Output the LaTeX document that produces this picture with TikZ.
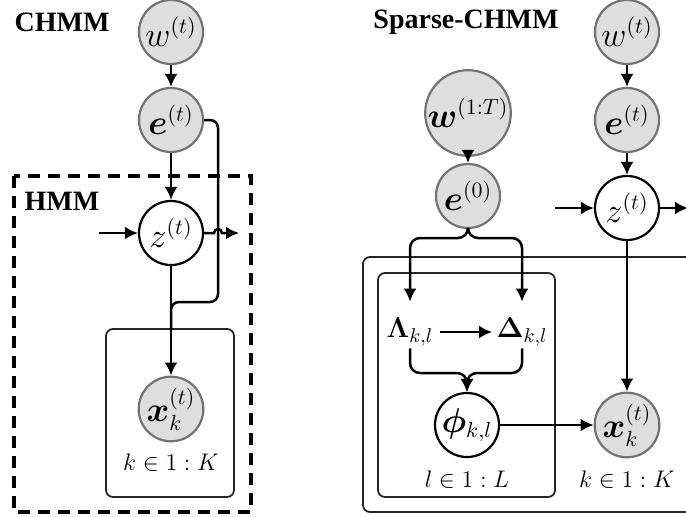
\documentclass[tikz,border=0pt]{standalone}
\usepackage{amsmath,bm}
\usepackage{fontspec}
\newfontfamily\titlefont{Liberation Serif}
\usetikzlibrary{arrows.meta}
\begin{document}
\begin{tikzpicture}[x=0.5pt,y=-0.5pt,
  obs/.style={circle,draw=black!55,fill=black!13,line width=1.1pt,minimum size=32pt,inner sep=0pt,font=\fontsize{16}{19}\selectfont},
  lat/.style={circle,draw=black,fill=white,line width=1.1pt,minimum size=32pt,inner sep=0pt,font=\fontsize{16}{19}\selectfont},
  txt/.style={inner sep=0pt,font=\fontsize{14.5}{17}\selectfont},
  arr/.style={-{Latex[length=6.5pt,width=6.5pt]},line width=1.25pt},
  ln/.style={line width=1.25pt},
  plate/.style={draw=black!85,line width=0.9pt,rounded corners=3.5pt},
  ttl/.style={font=\titlefont\bfseries\fontsize{14}{16}\selectfont,inner sep=0pt},
  plab/.style={font=\fontsize{11.5}{14}\selectfont,inner sep=0pt}]
\useasboundingbox (0,0) rectangle (686,516);

% ---------- CHMM ----------
\node[ttl] (t1) at (62,22) {CHMM};
\draw[line width=1.6pt,dash pattern=on 6pt off 4pt] (14,176) rectangle (251,512);
\node[ttl] (t2) at (62,201) {HMM};
\draw[plate] (106,329) rectangle (234,497);
\node[obs] (w1) at (171,32) {$w^{(t)}$};
\node[obs] (e1) at (171,120) {$\bm{e}^{(t)}$};
\node[lat] (z1) at (171,233) {$z^{(t)}$};
\node[obs] (x1) at (171,409) {$\bm{x}_k^{(t)}$};
\node[plab] (k1) at (171,463) {$k\in 1:K$};
\coordinate (zin1) at (99,233);
\coordinate (zout1) at (239,233);
\draw[arr] (w1) -- (e1);
\draw[arr] (e1) -- (z1);
\draw[arr] (zin1) -- (z1);
\draw[arr] (z1.east) -- (214,233) arc[start angle=180,end angle=0,radius=2pt] -- (zout1);
\draw[arr] (z1) -- (x1);
\draw[ln,rounded corners=4pt] (e1.east) -- (218,120) -- (218,302) -- (171,302) -- (171,330);

% ---------- Sparse-CHMM ----------
\node[ttl] (t3) at (466,22) {Sparse-CHMM};
\draw[plate] (363,257) rectangle (720,512);
\draw[plate] (378,273) rectangle (555,497);
\node[obs] (w2) at (627,32) {$w^{(t)}$};
\node[obs] (e2) at (627,120) {$\bm{e}^{(t)}$};
\node[lat] (z2) at (627,208) {$z^{(t)}$};
\node[obs] (wa) at (468,113) {$\bm{w}^{(1:T)}$};
\node[obs] (e0) at (468,196) {$\bm{e}^{(0)}$};
\node[txt] (L) at (410,332) {$\bm{\Lambda}_{k,l}$};
\node[txt] (D) at (522,332) {$\bm{\Delta}_{k,l}$};
\node[lat] (phi) at (467,425) {$\bm{\phi}_{k,l}$};
\node[obs] (x2) at (627,425) {$\bm{x}_k^{(t)}$};
\node[plab] (l2) at (467,480) {$l\in 1:L$};
\node[plab] (k2) at (627,480) {$k\in 1:K$};
\coordinate (zin2) at (555,208);
\coordinate (zout2) at (688,208);
\draw[arr] (w2) -- (e2);
\draw[arr] (e2) -- (z2);
\draw[arr] (zin2) -- (z2);
\draw[arr] (z2) -- (zout2);
\draw[arr] (z2) -- (x2);
\draw[arr] (wa) -- (e0);
\draw[arr,rounded corners=5pt] (e0.south) -- (468,238) -| ([yshift=8pt]L.north);
\draw[arr,rounded corners=5pt] (e0.south) -- (468,238) -| ([yshift=8pt]D.north);
\draw[arr,shorten <=3pt,shorten >=2pt] (L) -- (D);
\draw[arr,rounded corners=5pt] ([yshift=-1pt]L.south) |- (467,373) -- (phi.north);
\draw[arr,rounded corners=5pt] ([yshift=-1pt]D.south) |- (467,373) -- (phi.north);
\draw[arr] (phi) -- (x2);
\end{tikzpicture}
\end{document}
